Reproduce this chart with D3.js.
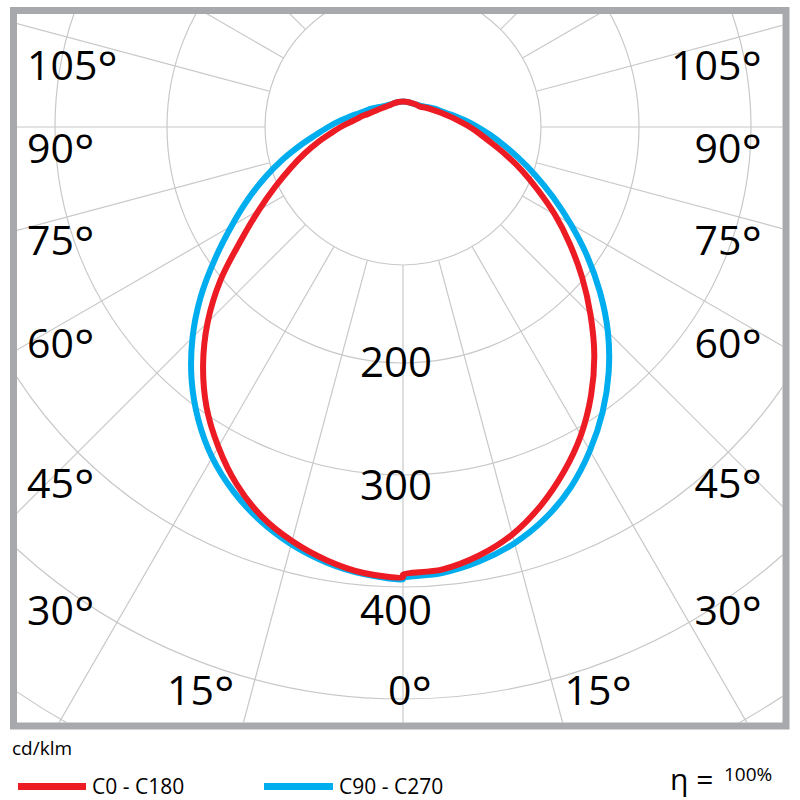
<!DOCTYPE html>
<html><head><meta charset="utf-8">
<script src="https://cdn.jsdelivr.net/npm/d3@7"></script>
<style>body{margin:0;background:#fff} svg{display:block} text{font-family:"Open Sans",sans-serif;fill:#000}</style>
</head><body>
<svg id="chart" width="800" height="800"></svg>
<script>
// ---- data (cd/klm) ----
const angles = [0,5,10,15,20,25,30,35,40,45,50,55,60,65,70,75,80,85,90,95,100,105,110,120,130,140,150,160,170,180];
const c0   = [389,386,378,366,349,329,307,282,255,226,198,171,146,122,102,84,69,58,49,41,35,30,26,20,16,13,12.5,12,12,12];
const c180 = [391,389,382,372,359,341,319,295,267,236,202,166,138,115,96,80,66,54,45,37,31,27,23,18,15,13,12,12,12,12];
const c90  = [392,389,383,374,361,344,323,300,275,248,219,190,162,137,115,96,80,67,56,47,39,33,28,22,17,14,12.5,12,12,12];
const c270 = [393,390,384,375,363,348,330,308,283,255,225,194,166,142,120,100,82,67,56,47,39,33,28,22,17,14,12.5,12,12,12];
const ringValues = [200,300,400,500,600];
const valueLabels = [200,300,400];
const gridAngles = d3.range(0,360,15);
const sideAngleLabels = [105,90,75,60,45,30];
const seriesNames = ["C0 - C180","C90 - C270"];
const efficiency = "100%";
const unitLabel = "cd/klm";

// ---- layout ----
const cx = 403, cy = 127;
const frame = {x:13.5, y:10.5, w:772.5, h:715.5};
const inner = {x:17, y:14, w:765.5, h:708.5};
const hubR = 138;
const red = "#ed1c24", blue = "#00aeef", gridC = "#c8c8c8";
const sideLabelY = {105:80, 90:163, 75:255, 60:358, 45:498, 30:625};
const valueLabelY = {200:377, 300:500, 400:625};

const svg = d3.select("#chart");
const r = d3.scaleLinear().domain([0,600]).range([12,684]);

svg.append("clipPath").attr("id","clip").append("rect")
  .attr("x",inner.x).attr("y",inner.y).attr("width",inner.w).attr("height",inner.h);

const g = svg.append("g").attr("clip-path","url(#clip)");
const pg = g.append("g").attr("transform",`translate(${cx},${cy})`);

// grid circles
pg.append("circle").attr("r",hubR).attr("fill","none").attr("stroke",gridC).attr("stroke-width",1.2);
pg.selectAll("circle.ring").data(ringValues).join("circle").attr("class","ring")
  .attr("r",d=>r(d)).attr("fill","none").attr("stroke",gridC).attr("stroke-width",1.2);
// radial lines (angle measured from nadir)
pg.selectAll("line.rad").data(gridAngles).join("line").attr("class","rad")
  .attr("x1",d=>hubR*Math.sin(d*Math.PI/180)).attr("y1",d=>hubR*Math.cos(d*Math.PI/180))
  .attr("x2",d=>1000*Math.sin(d*Math.PI/180)).attr("y2",d=>1000*Math.cos(d*Math.PI/180))
  .attr("stroke",gridC).attr("stroke-width",1.2);

// curves
function pts(right,left){
  const p=[];
  for(let i=angles.length-1;i>=0;i--) p.push({a:Math.PI-angles[i]*Math.PI/180, v:right[i]});
  for(let i=0;i<angles.length-1;i++) p.push({a:Math.PI+angles[i]*Math.PI/180, v:left[i]});
  return p;
}
const line = d3.lineRadial().angle(d=>d.a).radius(d=>r(d.v)).curve(d3.curveCatmullRomClosed.alpha(0.5));
pg.append("path").attr("d",line(pts(c90,c270))).attr("fill","none").attr("stroke",blue).attr("stroke-width",6).attr("stroke-linejoin","round");
pg.append("path").attr("d",line(pts(c0,c180))).attr("fill","none").attr("stroke",red).attr("stroke-width",6).attr("stroke-linejoin","round");

// value labels
svg.selectAll("text.val").data(valueLabels).join("text").attr("class","val")
  .attr("x",396).attr("y",d=>valueLabelY[d]).attr("text-anchor","middle")
  .style("font-size","42px").text(d=>d);

// angle labels
function deg(sel){
  sel.append("tspan").text(d=>d);
  sel.append("tspan").attr("dy",6).style("font-size","48px").text("°");
}
svg.selectAll("text.la").data(sideAngleLabels).join("text").attr("class","la")
  .attr("x",27).attr("y",d=>sideLabelY[d]).style("font-size","41px").call(deg);
svg.selectAll("text.ra").data(sideAngleLabels).join("text").attr("class","ra")
  .attr("x",762).attr("y",d=>sideLabelY[d]).attr("text-anchor","end").style("font-size","41px").call(deg);
svg.selectAll("text.ba").data([{v:15,x:167,a:"start"},{v:0,x:388,a:"start"},{v:15,x:632,a:"end"}]).join("text").attr("class","ba")
  .attr("x",d=>d.x).attr("y",705).attr("text-anchor",d=>d.a).style("font-size","41px")
  .each(function(d){ const t=d3.select(this); t.append("tspan").text(d.v); t.append("tspan").attr("dy",6).style("font-size","48px").text("°"); });

// frame
svg.append("rect").attr("x",frame.x).attr("y",frame.y).attr("width",frame.w).attr("height",frame.h)
  .attr("fill","none").attr("stroke","#a7a9ac").attr("stroke-width",7);

// legend
svg.append("text").attr("x",12).attr("y",755).style("font-size","19px").text(unitLabel);
const leg = [{name:seriesNames[0],color:red,x1:18,x2:86,tx:92},{name:seriesNames[1],color:blue,x1:264,x2:333,tx:339}];
leg.forEach(l=>{
  svg.append("line").attr("x1",l.x1).attr("x2",l.x2).attr("y1",786.5).attr("y2",786.5).attr("stroke",l.color).attr("stroke-width",7);
  svg.append("text").attr("x",l.tx).attr("y",794).style("font-size","21px").text(l.name);
});
svg.append("text").attr("x",670).attr("y",790).style("font-size","30px").text("η =");
svg.append("text").attr("x",724).attr("y",781).style("font-size","19px").text(efficiency);
</script>
</body></html>
